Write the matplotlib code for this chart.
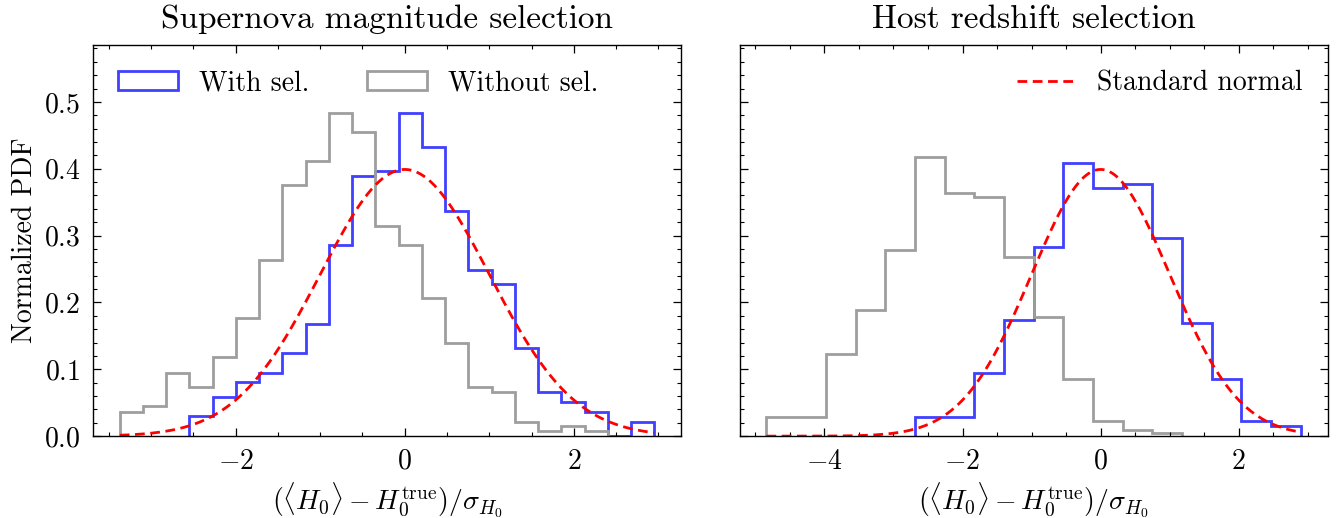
import numpy as np
import matplotlib
matplotlib.use("Agg")
import matplotlib.pyplot as plt
from matplotlib.patches import Patch

plt.rcParams['font.family'] = 'serif'
plt.rcParams['font.serif'] = ['cmr10']
plt.rcParams['mathtext.fontset'] = 'cm'
plt.rcParams['axes.formatter.use_mathtext'] = True
plt.rcParams['axes.unicode_minus'] = True
plt.rcParams['font.size'] = 20

# Supernova magnitude selection (left panel): 23 shared bins
sn_range = (-3.37, 2.95)
sn_with = [0.0, 0.0, 0.0, 0.030, 0.059, 0.081, 0.095, 0.124, 0.168, 0.286,
           0.389, 0.396, 0.484, 0.433, 0.337, 0.249, 0.228, 0.132, 0.066,
           0.051, 0.036, 0.0, 0.021]
sn_without = [0.036, 0.045, 0.095, 0.074, 0.118, 0.176, 0.264, 0.375, 0.411,
              0.484, 0.455, 0.315, 0.286, 0.206, 0.140, 0.074, 0.066, 0.021,
              0.008, 0.015, 0.008, 0.0, 0.0]

# Host redshift selection (right panel): 18 shared bins
hz_range = (-4.84, 2.90)
hz_with = [0.0, 0.0, 0.0, 0.0, 0.0, 0.028, 0.028, 0.095, 0.174, 0.283,
           0.409, 0.371, 0.377, 0.297, 0.169, 0.085, 0.023, 0.015]
hz_without = [0.028, 0.028, 0.123, 0.189, 0.278, 0.418, 0.363, 0.358, 0.268,
              0.178, 0.085, 0.022, 0.009, 0.004, 0.0, 0.0, 0.0, 0.0]

titles = ['Supernova magnitude selection', 'Host redshift selection']
xlabel = r'$(\langle H_0\rangle - H_0^{\rm true})/\sigma_{H_0}$'

BLUE = (0.25, 0.25, 1.0)
GRAY = (0.62, 0.62, 0.62)
LW = 2.0


def draw_hist(ax, heights, rng, color):
    heights = np.array(heights)
    edges = np.linspace(rng[0], rng[1], len(heights) + 1)
    nz = np.nonzero(heights)[0]
    a, b = nz[0], nz[-1] + 1
    ax.stairs(heights[a:b], edges[a:b + 1], color=color, lw=LW)


def style_axis(ax):
    ax.tick_params(which='both', direction='in', top=True, right=True)
    ax.tick_params(which='major', length=6, width=0.9, pad=9)
    ax.tick_params(which='minor', length=3, width=0.8)
    ax.xaxis.set_major_locator(matplotlib.ticker.MultipleLocator(2))
    ax.xaxis.set_minor_locator(matplotlib.ticker.MultipleLocator(0.5))
    ax.yaxis.set_minor_locator(matplotlib.ticker.MultipleLocator(0.02))
    ax.yaxis.set_major_locator(matplotlib.ticker.MultipleLocator(0.1))
    for s in ax.spines.values():
        s.set_linewidth(1.0)


fig, axes = plt.subplots(1, 2, figsize=(13.41, 5.18), dpi=100, sharey=True)
fig.subplots_adjust(left=0.0694, right=0.990, bottom=0.158, top=0.913,
                    wspace=0.1)

panels = [(sn_with, sn_without, sn_range), (hz_with, hz_without, hz_range)]
for ax, (w, wo, rng), title in zip(axes, panels, titles):
    draw_hist(ax, w, rng, BLUE)
    draw_hist(ax, wo, rng, GRAY)
    xs = np.linspace(rng[0], rng[1], 300)
    h3, = ax.plot(xs, np.exp(-xs ** 2 / 2) / np.sqrt(2 * np.pi), color='red',
                  ls=(0, (3.5, 2)), lw=LW, label='Standard normal')
    ax.set_title(title, fontsize=24, pad=12)
    ax.set_xlabel(xlabel, fontsize=20)
    style_axis(ax)

axes[0].set_ylim(0, 0.585)
axes[0].set_ylabel('Normalized PDF', fontsize=20)
h1 = Patch(facecolor='none', edgecolor=BLUE, lw=LW, label='With sel.')
h2 = Patch(facecolor='none', edgecolor=GRAY, lw=LW, label='Without sel.')
axes[0].legend(handles=[h1, h2], loc='upper left', ncol=2, frameon=False,
               handlelength=2.15, handletextpad=0.75, columnspacing=2.1,
               fontsize=20)
axes[1].legend(handles=[h3], loc='upper right', frameon=False,
               handlelength=2.1, handletextpad=0.8, fontsize=20)

fig.savefig('out.png', dpi=100)
